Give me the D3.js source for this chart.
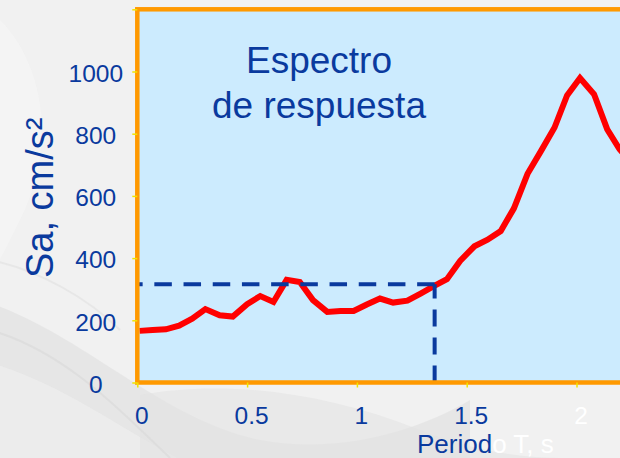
<!DOCTYPE html>
<html>
<head>
<meta charset="utf-8">
<script src="https://cdn.jsdelivr.net/npm/d3@7"></script>
<style>
  html, body { margin: 0; padding: 0; background: #f1f1f1; }
  svg { display: block; font-family: "Liberation Sans", Arial, sans-serif; }
</style>
</head>
<body>
<svg id="chart" width="620" height="458"></svg>
<script>
// Response spectrum: period T (s) vs spectral acceleration Sa (cm/s²)
const periods = [0.01, 0.07, 0.13, 0.19, 0.25, 0.31, 0.375, 0.435, 0.50, 0.56, 0.62, 0.68, 0.74, 0.80,
                 0.865, 0.925, 0.985, 1.045, 1.105, 1.165, 1.23, 1.29, 1.35, 1.41, 1.47, 1.535, 1.595,
                 1.655, 1.715, 1.777, 1.838, 1.90, 1.957, 2.016, 2.08, 2.14, 2.196, 2.26];
const saValues = [166, 169, 171, 183, 205, 236, 216, 212, 252, 278, 259, 330, 323, 265,
                  227, 230, 230, 251, 270, 257, 263, 286, 310, 332, 391, 438, 459,
                  487, 560, 671, 744, 820, 923, 979, 927, 814, 750, 700];

// Design period and its spectral ordinate (dashed guide)
const designPeriod = 1.354;
const designSa = 316;

const xTickValues = [0, 0.5, 1, 1.5, 2];
const yTickValues = [0, 200, 400, 600, 800, 1000, 1200];
const yTickLabels = ["0", "200", "400", "600", "800", "1000", ""];

const titleLines = ["Espectro", "de respuesta"];
const yTitle = "Sa, cm/s²";
const xTitleDark = "Period";
const xTitleLight = "o T, s";

const blue = "#0A3A9E";
const svg = d3.select("#chart");

// soft background swirls
const bg = svg.append("g");
bg.append("rect").attr("width", 620).attr("height", 458).attr("fill", "#f1f1f1");
const swirl = [
  {d: "M-20,300 C80,330 160,420 260,440 C340,455 420,430 470,400 L470,470 L-20,470 Z", c: "#e4e4e4", o: 0.8},
  {d: "M-20,360 C60,380 120,430 200,470 L-20,470 Z", c: "#ececec", o: 0.9},
  {d: "M0,20 C40,60 60,140 20,220 C0,260 -10,280 -20,290 L-20,0 Z", c: "#f5f5f5", o: 0.8},
  {d: "M140,395 C220,380 320,390 420,430 C470,450 520,458 560,458 L140,458 Z", c: "#e2e2e2", o: 0.55}
];
swirl.forEach(s => bg.append("path").attr("d", s.d).attr("fill", s.c).attr("opacity", s.o));
bg.append("path").attr("d", "M-10,330 C60,350 110,400 170,458").attr("fill", "none")
  .attr("stroke", "#d9d9d9").attr("stroke-width", 2).attr("opacity", 0.6);
bg.append("path").attr("d", "M-10,260 C40,270 90,300 120,330").attr("fill", "none")
  .attr("stroke", "#dedede").attr("stroke-width", 2).attr("opacity", 0.5);

// scales
const x = d3.scaleLinear().domain([0, 2.5]).range([137.3, 137.3 + 219.6 * 2.5]);
const y = d3.scaleLinear().domain([0, 1200]).range([382.5, 9.3]);

const plotLeft = x(0), plotTop = y(1200), plotBottom = y(0), plotRight = x(2.5);

// plot area
svg.append("rect")
  .attr("x", plotLeft).attr("y", plotTop)
  .attr("width", plotRight - plotLeft).attr("height", plotBottom - plotTop)
  .attr("fill", "#CCEBFE");

// title inside the plot
const title = svg.append("text")
  .attr("x", 319).attr("y", 73)
  .attr("text-anchor", "middle")
  .attr("font-size", 37).attr("fill", blue);
titleLines.forEach((t, i) => title.append("tspan").attr("x", 319).attr("dy", i === 0 ? 0 : 45).text(t));

// spectrum line
const line = d3.line().x((d, i) => x(periods[i])).y(d => y(d));
svg.append("path")
  .datum(saValues)
  .attr("d", line)
  .attr("fill", "none")
  .attr("stroke", "#FF0000")
  .attr("stroke-width", 6)
  .attr("stroke-linejoin", "miter");

// dashed guide lines at the design period
svg.append("path")
  .attr("d", d3.line()([[x(designPeriod), y(designSa)], [plotLeft, y(designSa)]]))
  .attr("fill", "none").attr("stroke", blue).attr("stroke-width", 4)
  .attr("stroke-dasharray", "17.5,11.7");
svg.append("path")
  .attr("d", d3.line()([[x(designPeriod), plotBottom], [x(designPeriod), y(designSa)]]))
  .attr("fill", "none").attr("stroke", blue).attr("stroke-width", 4)
  .attr("stroke-dasharray", "17,11");

// frame
svg.append("rect")
  .attr("x", plotLeft).attr("y", plotTop)
  .attr("width", plotRight - plotLeft).attr("height", plotBottom - plotTop)
  .attr("fill", "none").attr("stroke", "#FF9900").attr("stroke-width", 4.5);

// y axis
const yAxis = svg.append("g")
  .attr("transform", `translate(${plotLeft},0)`)
  .call(d3.axisLeft(y).tickValues(yTickValues).tickSize(5)
    .tickFormat((d, i) => yTickLabels[i]));
yAxis.select(".domain").remove();
yAxis.selectAll(".tick line").attr("stroke", "#F2E400").attr("stroke-width", 1.5);
yAxis.selectAll(".tick text")
  .attr("x", -41.5).attr("dy", "0.40em")
  .attr("text-anchor", "middle")
  .attr("font-size", 24.5).attr("fill", blue)
  .attr("font-family", "'Liberation Sans', Arial, sans-serif");

// x axis
const xAxis = svg.append("g")
  .attr("transform", `translate(0,${plotBottom})`)
  .call(d3.axisBottom(x).tickValues(xTickValues).tickSize(5).tickFormat(d3.format("")));
xAxis.select(".domain").remove();
xAxis.selectAll(".tick line").attr("stroke", "#F2E400").attr("stroke-width", 1.5);
xAxis.selectAll(".tick text")
  .attr("y", 41).attr("dy", 0).attr("dx", 4)
  .attr("font-size", 24.5)
  .attr("fill", d => d === 2 ? "#ffffff" : blue)
  .attr("font-family", "'Liberation Sans', Arial, sans-serif");

// axis titles
svg.append("text")
  .attr("transform", "translate(53,278) rotate(-90)")
  .attr("font-size", 38).attr("fill", blue)
  .text(yTitle);

const xt = svg.append("text")
  .attr("x", 417).attr("y", 453)
  .attr("font-size", 26);
xt.append("tspan").attr("fill", blue).text(xTitleDark);
xt.append("tspan").attr("fill", "#ffffff").text(xTitleLight);
</script>
</body>
</html>
